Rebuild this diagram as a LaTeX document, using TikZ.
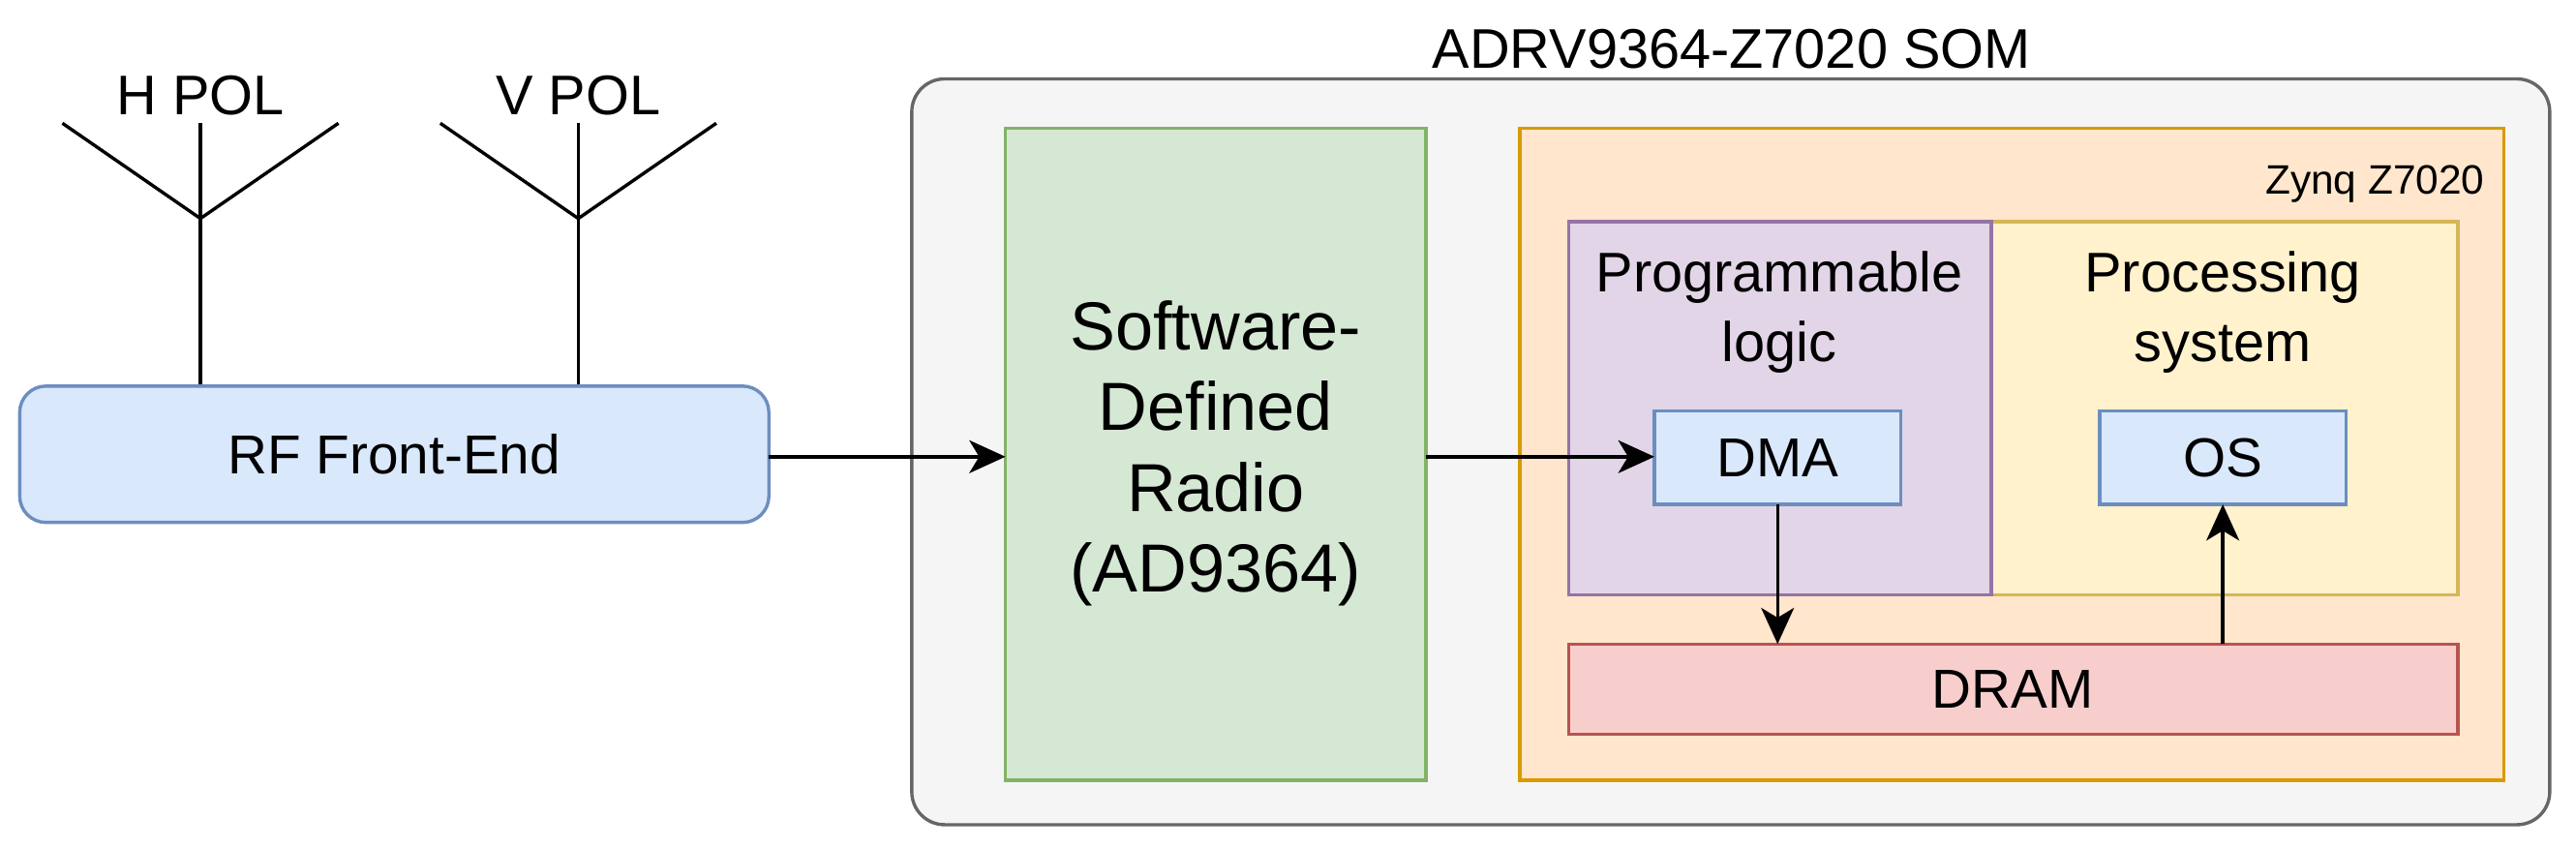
\documentclass[tikz,border=0pt]{standalone}
\usepackage{fontspec}
\setmainfont{Liberation Sans}
\usetikzlibrary{arrows.meta}
\definecolor{bF}{HTML}{DAE8FC}\definecolor{bS}{HTML}{6C8EBF}
\definecolor{gF}{HTML}{D5E8D4}\definecolor{gS}{HTML}{82B366}
\definecolor{oF}{HTML}{FFE6CC}\definecolor{oS}{HTML}{D79B00}
\definecolor{yF}{HTML}{FFF2CC}\definecolor{yS}{HTML}{D6B656}
\definecolor{pF}{HTML}{E1D5E7}\definecolor{pS}{HTML}{9673A6}
\definecolor{rF}{HTML}{F8CECC}\definecolor{rS}{HTML}{B85450}
\definecolor{sF}{HTML}{F5F5F5}\definecolor{sS}{HTML}{666666}
\begin{document}
\begin{tikzpicture}[x=0.5pt,y=-0.5pt,line width=1pt,
 box/.style={draw,line width=1pt},
 arr/.style={-{Stealth[length=11pt,width=10pt,inset=3pt]},line width=1pt},
 big/.style={font=\fontsize{20.7}{24.5}\selectfont,align=center},
 mid/.style={font=\fontsize{16.7}{20}\selectfont,align=center},
 lab/.style={font=\fontsize{17}{21}\selectfont,align=center}]
\useasboundingbox (0,0) rectangle (1568,516);
% antennas
\foreach \cx/\nm/\lb in {122/h/H POL,352/v/V POL}{
 \draw (\cx-84,75) -- (\cx,133) -- (\cx+84,75);
 \draw (\cx,75) -- (\cx,235);
 \node[lab] (\nm) at (\cx,58) {\lb};
}
\draw[box,draw=bS,fill=bF,rounded corners=8pt] (12,235) rectangle (468,318);
\node[mid] (rf) at (240,276.5) {RF Front-End};
\draw[box,draw=sS,fill=sF,rounded corners=10pt] (555,48) rectangle (1552,502);
\node[lab] (som) at (1054,30) {ADRV9364-Z7020 SOM};
\draw[box,draw=gS,fill=gF] (612,78) rectangle (868,475);
\node[big] (sdr) at (740,276) {Software-\\Defined\\Radio\\(AD9364)};
\draw[box,draw=oS,fill=oF] (925,78) rectangle (1524,475);
\node[font=\fontsize{12.5}{15}\selectfont,anchor=east] (zq) at (1520,112) {Zynq Z7020};
\draw[box,draw=yS,fill=yF] (955,135) rectangle (1496,362);
\draw[box,draw=pS,fill=pF] (955,135) rectangle (1212,362);
\node[lab] (pl) at (1083,190) {Programmable\\logic};
\node[lab] (ps) at (1353,190) {Processing\\system};
\draw[box,draw=bS,fill=bF] (1007,250) rectangle (1157,307);
\node[mid] (dma) at (1082,278.5) {DMA};
\draw[box,draw=bS,fill=bF] (1278,250) rectangle (1428,307);
\node[mid] (os) at (1353,278.5) {OS};
\draw[box,draw=rS,fill=rF] (955,392) rectangle (1496,447);
\node[mid] (dram) at (1225,419.5) {DRAM};
\coordinate (rfE) at (468,278); \coordinate (sdrW) at (612,278);
\coordinate (sdrE) at (868,278); \coordinate (dmaW) at (1007,278);
\coordinate (dmaS) at (1082,307); \coordinate (dramN1) at (1082,392);
\coordinate (dramN2) at (1353,392); \coordinate (osS) at (1353,307);
\draw[arr] (rfE) -- (sdrW);
\draw[arr] (sdrE) -- (dmaW);
\draw[arr] (dmaS) -- (dramN1);
\draw[arr] (dramN2) -- (osS);
\end{tikzpicture}
\end{document}
